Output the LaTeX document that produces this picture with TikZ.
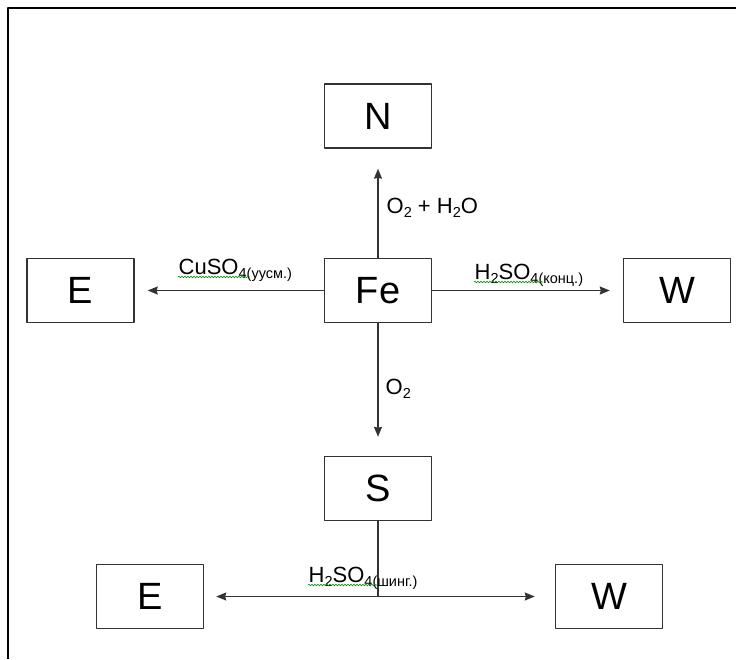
\documentclass[tikz,border=0pt]{standalone}
\usepackage{fontspec}
\setmainfont{Liberation Sans}
\usetikzlibrary{arrows.meta,decorations.pathmorphing}
\newcommand{\lsub}[1]{\raisebox{-0.2em}{\fontsize{14.5}{14.5}\selectfont #1}}

\begin{document}
\begin{tikzpicture}[x=1pt,y=-1pt,line join=round,line cap=round,>={Stealth[length=10pt,width=8pt,inset=1pt]},line width=1.4pt]
	\tikzset{box/.style={draw=black!80,minimum width=107pt,minimum height=64pt,inner sep=0pt,font=\fontsize{38}{40}\selectfont},
		lbl/.style={anchor=base west,inner sep=0pt,font=\fontsize{22}{24}\selectfont},
		conn/.style={draw=black!80},
		squiggle/.style={draw=green!55!black,line width=0.6pt,decorate,decoration={snake,segment length=3pt,amplitude=0.8pt}}}
	\useasboundingbox (0,0) rectangle (736,659);
	\draw[line width=2.5pt,line cap=butt] (736,8)--(8,8)--(8,659);
	% boxes
	\node[box] (n) at (378,116) {N};
	\node[box] (fe) at (378,290.5) {Fe};
	\node[box] (e1) at (80.5,290.5) {E};
	\node[box] (w1) at (677,290.5) {W};
	\node[box] (s) at (378,488.5) {S};
	\node[box] (e2) at (150,596.5) {E};
	\node[box] (w2) at (609,596.5) {W};
	% arrows
	\draw[conn,->,shorten >=20pt] (fe) -- (n);
	\draw[conn,->,shorten >=13pt] (fe) -- (e1);
	\draw[conn,->,shorten >=13pt] (fe) -- (w1);
	\draw[conn,->,shorten >=19pt] (fe) -- (s);
	\coordinate (j) at (378,596.5);
	\draw[conn] (s) -- (j);
	\draw[conn,->,shorten >=12pt] (j) -- (e2);
	\draw[conn,->,shorten >=20pt] (j) -- (w2);
	% labels
	\node[lbl] (o2h) at (386,213) {O\lsub{2} + H\lsub{2}O};
	\node[lbl] (o2) at (385,394) {O\lsub{2}};
	\node[lbl] (cu) at (178,274) {CuSO\lsub{4(уусм.)}};
	\node[lbl] (hk) at (474,279) {H\lsub{2}SO\lsub{4(конц.)}};
	\node[lbl] (hs) at (308,582) {H\lsub{2}SO\lsub{4(шинг.)}};
	\draw[squiggle] ([yshift=-3pt]cu.base west) -- ++(72,0);
	\draw[squiggle] ([yshift=-3pt]hk.base west) -- ++(69,0);
	\draw[squiggle] ([yshift=-3pt]hs.base west) -- ++(69,0);
\end{tikzpicture}
\end{document}
